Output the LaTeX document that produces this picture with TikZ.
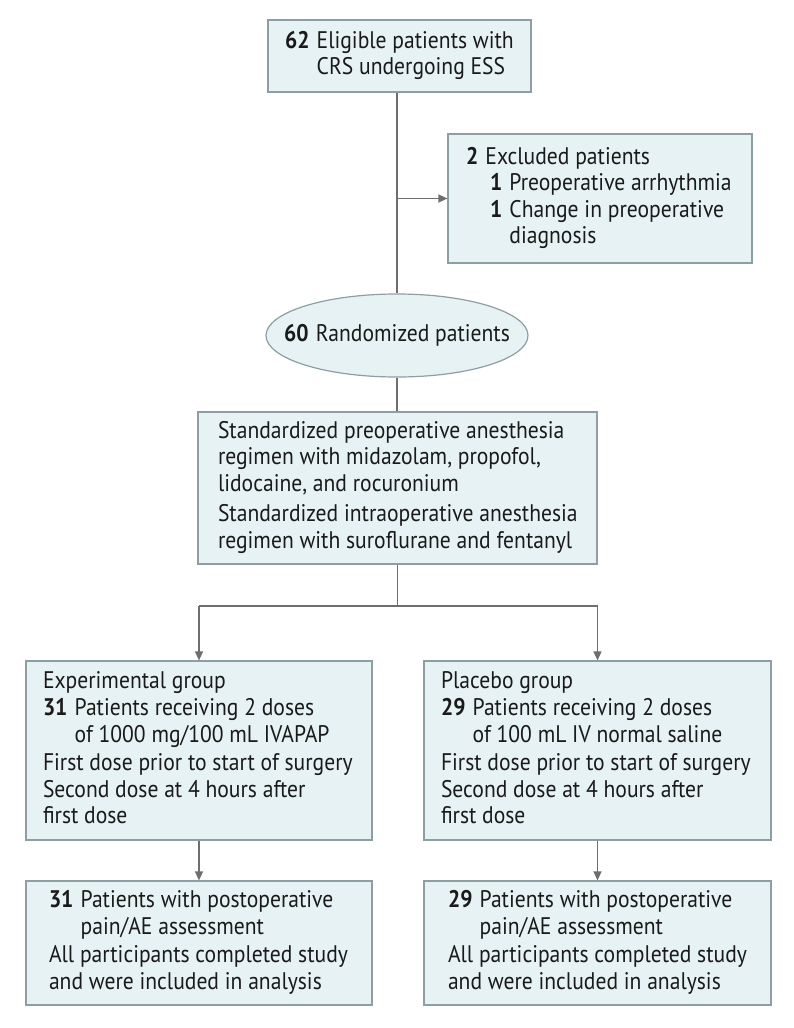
\documentclass[tikz,border=0pt]{standalone}
\usepackage{fontspec}
\setmainfont{PT Sans}[FakeStretch=0.9]
\usetikzlibrary{arrows.meta,shapes.geometric}
\definecolor{boxfill}{HTML}{E7F2F4}
\definecolor{boxline}{HTML}{8E9FA3}
\definecolor{connc}{HTML}{6E6E6E}
\definecolor{txt}{HTML}{1A1A1A}
\newcommand\nb[1]{\textbf{#1}\hspace{0.3em}}
\newcommand\ind[1]{\hphantom{\textbf{#1}\hspace{0.3em}}}
\newcommand\fs{\fontsize{24}{26.5}\selectfont}
\newcommand\tb[2]{\makebox[#1][l]{\begin{tabular}{@{}l@{}}#2\end{tabular}}}
\begin{document}
\begin{tikzpicture}[x=1pt,y=-1pt,
  box/.style={draw=boxline, fill=boxfill, line width=1.2pt, rectangle, inner ysep=0pt, font=\fs, text=txt},
  conn/.style={draw=connc, line width=1.3pt},
  arr/.style={conn, -{Triangle[length=9pt,width=8pt]}}]
\useasboundingbox (0,0) rectangle (794,1028);
\fill[white] (0,0) rectangle (794,1028);

\node[box, minimum width=263pt, minimum height=72pt, inner xsep=17pt] (top) at (399.5,56)
  {\tb{229pt}{\nb{62}Eligible patients with\\\ind{62}CRS undergoing ESS}};

\node[box, minimum width=304pt, minimum height=129pt, inner xsep=18pt] (excl) at (600,198.5)
  {\tb{268pt}{\nb{2}Excluded patients\\\hspace*{24pt}\nb{1}Preoperative arrhythmia\\\hspace*{24pt}\nb{1}Change in preoperative\\\hspace*{24pt}\ind{1}diagnosis}};

\node[draw=boxline, fill=boxfill, line width=1.2pt, ellipse, minimum width=262pt, minimum height=83pt, inner sep=0pt, font=\fs, text=txt] (rand) at (397,335.5)
  {\makebox[0pt]{\nb{60}Randomized patients}};

\node[box, minimum width=399pt, minimum height=152pt, inner xsep=20pt] (reg) at (397.5,488)
  {\tb{359pt}{Standardized preoperative anesthesia\\regimen with midazolam, propofol,\\lidocaine, and rocuronium\\[4pt]Standardized intraoperative anesthesia\\regimen with suroflurane and fentanyl}};

\node[box, minimum width=346pt, minimum height=179pt, inner xsep=17pt] (exp) at (199,750.5)
  {\tb{312pt}{Experimental group\\[1pt]\nb{31}Patients receiving 2 doses\\\ind{31}of 1000 mg/100 mL IVAPAP\\[2pt]First dose prior to start of surgery\\Second dose at 4 hours after\\first dose}};

\node[box, minimum width=347pt, minimum height=179pt, inner xsep=17pt] (pla) at (597.5,750.5)
  {\tb{313pt}{Placebo group\\[1pt]\nb{29}Patients receiving 2 doses\\\ind{29}of 100 mL IV normal saline\\[2pt]First dose prior to start of surgery\\Second dose at 4 hours after\\first dose}};

\node[box, minimum width=346pt, minimum height=124pt, inner xsep=23pt] (expo) at (199,943)
  {\tb{300pt}{\nb{31}Patients with postoperative\\\ind{31}pain/AE assessment\\[2pt]All participants completed study\\and were included in analysis}};

\node[box, minimum width=347pt, minimum height=124pt, inner xsep=24pt] (plao) at (597.5,943)
  {\tb{299pt}{\nb{29}Patients with postoperative\\\ind{29}pain/AE assessment\\[2pt]All participants completed study\\and were included in analysis}};

\draw[conn] (rand.north |- top.south) -- (rand.north);
\draw[arr] (rand.north |- excl.west) -- (excl.west);
\draw[conn] (rand.south) -- (rand.south |- reg.north);
\coordinate (split) at (397.5,606);
\draw[conn] (reg.south) -- (split);
\draw[conn] (exp.north |- split) -- (pla.north |- split);
\draw[arr] (exp.north |- split) -- (exp.north);
\draw[arr] (pla.north |- split) -- (pla.north);
\draw[arr] (exp.south) -- (expo.north);
\draw[arr] (pla.south) -- (plao.north);
\end{tikzpicture}
\end{document}
